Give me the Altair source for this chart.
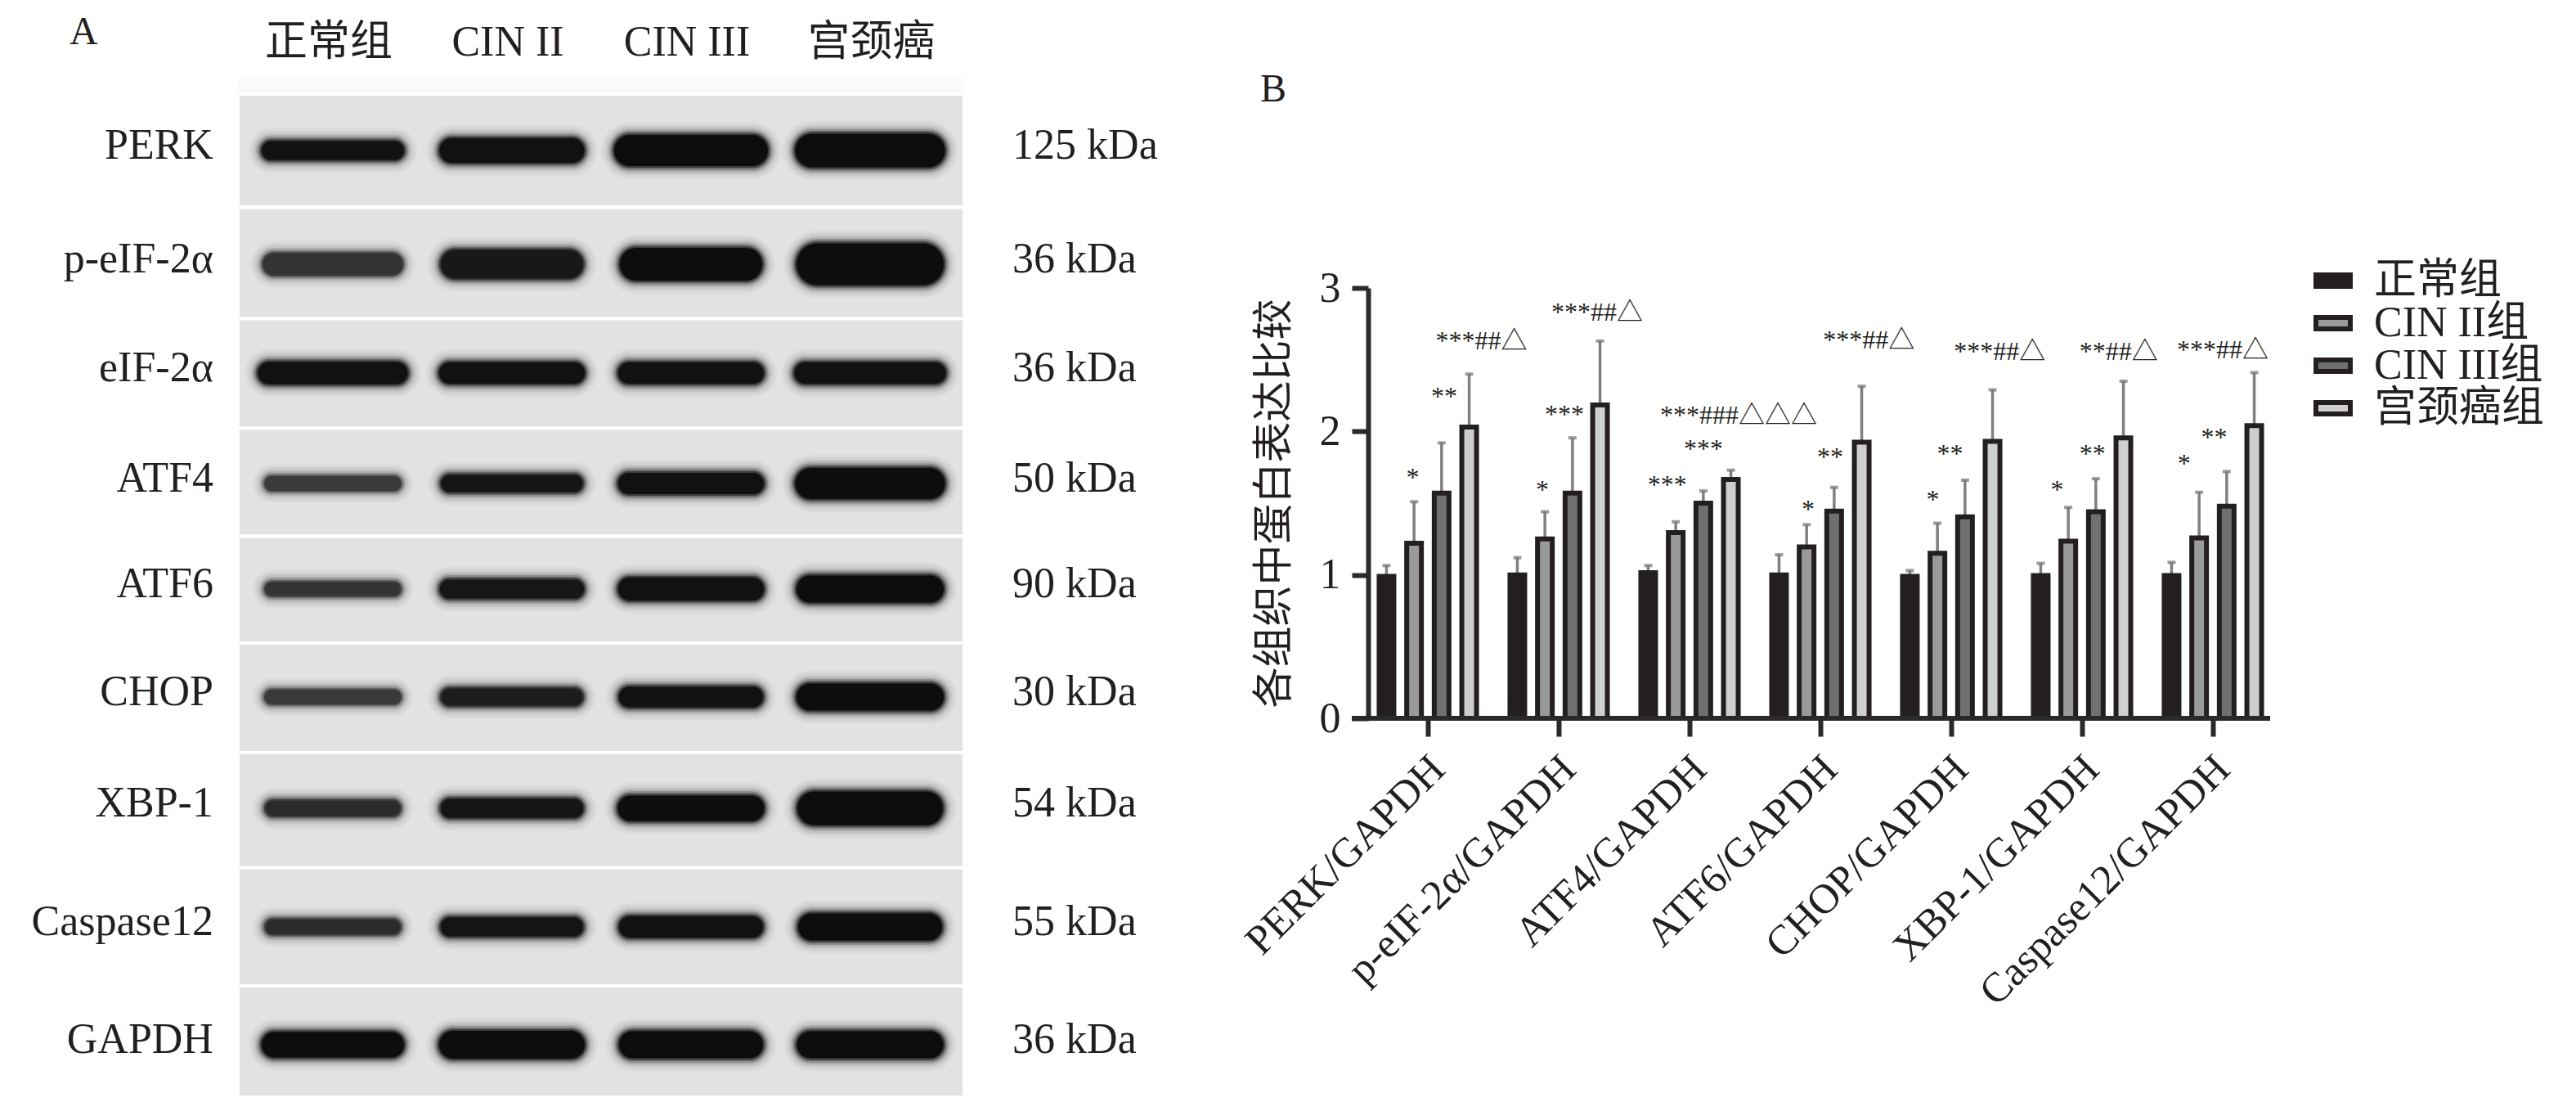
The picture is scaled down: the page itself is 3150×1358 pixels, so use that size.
import altair as alt
import pandas as pd

FONT = "Liberation Serif, Noto Sans CJK SC"
INK = "#231f20"

# ---------- panel B values ----------
targets = ["PERK/GAPDH", "p-eIF-2α/GAPDH", "ATF4/GAPDH", "ATF6/GAPDH",
           "CHOP/GAPDH", "XBP-1/GAPDH", "Caspase12/GAPDH"]
groups = ["正常组", "CIN II组", "CIN III组", "宫颈癌组"]
normal = [0.99, 1.00, 1.015, 1.00, 0.99, 0.995, 0.995]
cin2 = [1.22, 1.25, 1.295, 1.195, 1.15, 1.235, 1.257]
cin3 = [1.57, 1.57, 1.50, 1.445, 1.404, 1.44, 1.478]
cancer = [2.03, 2.185, 1.665, 1.925, 1.93, 1.955, 2.04]
normal_hi = [1.065, 1.12, 1.065, 1.14, 1.03, 1.08, 1.087]
cin2_hi = [1.51, 1.44, 1.37, 1.35, 1.36, 1.47, 1.576]
cin3_hi = [1.92, 1.955, 1.585, 1.61, 1.66, 1.67, 1.72]
cancer_hi = [2.40, 2.63, 1.73, 2.315, 2.29, 2.35, 2.41]
fills = ["#231f20", "#9a9a9a", "#707070", "#cfcfcf"]

marks_text = ["*", "**", "***##△", "*", "***", "***##△", "***", "***", "***###△△△",
              "*", "**", "***##△", "*", "**", "***##△", "*", "**", "**##△",
              "*", "**", "***##△"]
marks_at = [-0.115, 0.125, 0.41, 0.875, 1.044, 1.294, 1.83, 2.106, 2.375,
            2.906, 3.075, 3.37, 3.86, 3.99, 4.37, 4.81, 5.08, 5.28, 5.78, 6.01, 6.075]
marks_y = [1.617, 2.185, 2.573, 1.537, 2.059, 2.772, 1.569, 1.82, 2.056,
           1.395, 1.763, 2.576, 1.463, 1.785, 2.499, 1.537, 1.785, 2.499, 1.719, 1.9, 2.51]

# ---------- panel A values ----------
rows = ["PERK", "p-eIF-2α", "eIF-2α", "ATF4", "ATF6", "CHOP", "XBP-1", "Caspase12", "GAPDH"]
kda = ["125 kDa", "36 kDa", "36 kDa", "50 kDa", "90 kDa", "30 kDa", "54 kDa", "55 kDa", "36 kDa"]
lanes = ["正常组", "CIN II", "CIN III", "宫颈癌"]
thick = [[25, 32, 40, 43], [27, 37, 42, 53], [29, 28, 28, 28], [17, 23, 28, 40], [17, 25, 30, 35],
         [17, 23, 27, 35], [20, 25, 33, 43], [19, 25, 28, 35], [33, 36, 35, 35]]
length = [[176, 179, 190, 185], [171, 176, 176, 182], [185, 180, 180, 187], [166, 175, 180, 185],
          [166, 178, 180, 182], [166, 175, 178, 182], [166, 176, 181, 180], [166, 176, 178, 178],
          [176, 180, 178, 181]]
core = [["#111", "#111", "#0d0d0d", "#0d0d0d"], ["#333", "#181818", "#0d0d0d", "#0d0d0d"],
        ["#111", "#111", "#111", "#111"], ["#3a3a3a", "#141414", "#111", "#0d0d0d"],
        ["#333", "#161616", "#111", "#0d0d0d"], ["#3a3a3a", "#1c1c1c", "#111", "#0d0d0d"],
        ["#2b2b2b", "#141414", "#0d0d0d", "#0d0d0d"], ["#2b2b2b", "#141414", "#111", "#0d0d0d"],
        ["#0d0d0d", "#0d0d0d", "#0d0d0d", "#0d0d0d"]]

# ---------- layout of the figure (plot origin = image pixel 1673, 352) ----------
OX, OY = 1673, 352
W, H = 1103, 526
LANE_PX = 219.0
lane_scale = alt.Scale(domain=[1, 4], range=[407 - OX, 407 + 3 * LANE_PX - OX], nice=False, zero=False)
row_scale = alt.Scale(domain=[0.35, 0.5, 1, 2, 3, 4, 5, 6, 7, 8, 9, 9.5],
                      range=[v - OY for v in [95, 115, 184, 323, 456, 591, 720, 852, 988, 1133, 1277, 1341]],
                      nice=False, zero=False)
y_scale = alt.Scale(domain=[0, 3], nice=False, zero=False)
x_scale = alt.Scale(domain=targets, range=[-7, 1113], paddingInner=0, paddingOuter=0)
off_scale = alt.Scale(domain=groups, paddingInner=0.466, paddingOuter=0.607)
ann_scale = alt.Scale(domain=[-0.456, 6.4375], nice=False, zero=False)

# ---------- panel A ----------
strip_df = pd.DataFrame({"top": [0.35], "bot": [0.5], "l": [0.47], "r": [4.525]})
strip = alt.Chart(strip_df).mark_rect(fill="#fafafa").encode(
    x=alt.X("l:Q", scale=lane_scale, axis=None), x2="r:Q",
    y=alt.Y("top:Q", scale=row_scale, axis=None), y2="bot:Q")
panel_df = pd.DataFrame({"row": range(1, 10)})
panel_df["top"] = panel_df["row"] - 0.5
panel_df["bot"] = panel_df["row"] + 0.5
panel_df["l"] = 0.47
panel_df["r"] = 4.525
gel = alt.Chart(panel_df).mark_rect(fill="#e2e2e2", stroke="white", strokeWidth=4).encode(
    x=alt.X("l:Q", scale=lane_scale, axis=None), x2="r:Q",
    y=alt.Y("top:Q", scale=row_scale, axis=None), y2="bot:Q")

halo = [(30, .03), (24, .045), (18, .07), (13, .12), (9, .2), (5, .3), (2, .5)]
rec = []
for ext, op in halo + [(-2, 1.0)]:
    for i, _ in enumerate(rows):
        for k in range(4):
            half = (length[i][k] - thick[i][k]) / 2 / LANE_PX
            rec.append({"row": i + 1, "a": k + 1 - half, "b": k + 1 + half,
                        "w": thick[i][k] + ext, "o": op,
                        "c": core[i][k] if ext < 0 else "#111"})
bands = alt.Chart(pd.DataFrame(rec)).mark_rule(strokeCap="round").encode(
    x=alt.X("a:Q", scale=lane_scale, axis=None), x2="b:Q",
    y=alt.Y("row:Q", scale=row_scale, axis=None),
    size=alt.Size("w:Q", scale=None, legend=None),
    opacity=alt.Opacity("o:Q", scale=None, legend=None),
    color=alt.Color("c:N", scale=None, legend=None))

txt = dict(font=FONT, fontSize=52, color=INK)
row_df = pd.DataFrame({"row": range(1, 10), "name": rows, "kda": kda, "a": 0.333, "b": 4.795})
row_labels = alt.Chart(row_df).mark_text(align="right", baseline="middle", dy=-6, **txt).encode(
    x=alt.X("a:Q", scale=lane_scale, axis=None),
    y=alt.Y("row:Q", scale=row_scale, axis=None), text="name:N")
kda_labels = alt.Chart(row_df).mark_text(align="left", baseline="middle", dy=-6, **txt).encode(
    x=alt.X("b:Q", scale=lane_scale, axis=None),
    y=alt.Y("row:Q", scale=row_scale, axis=None), text="kda:N")
head_df = pd.DataFrame({"lane": [1, 2, 3, 4.03], "name": lanes})
headers = alt.Chart(head_df).mark_text(align="center", baseline="middle", dx=-5, **txt).encode(
    x=alt.X("lane:Q", scale=lane_scale, axis=None),
    y=alt.value(52 - OY), text="name:N")
letter_a = alt.Chart(pd.DataFrame({"t": ["A"]})).mark_text(align="left", baseline="middle", **{**txt, "fontSize": 48}).encode(
    x=alt.value(85 - OX), y=alt.value(40 - OY), text="t:N")
letter_b = alt.Chart(pd.DataFrame({"t": ["B"]})).mark_text(align="left", baseline="middle", **{**txt, "fontSize": 48}).encode(
    x=alt.value(1541 - OX), y=alt.value(110 - OY), text="t:N")

# ---------- panel B ----------
rec = []
for g, vals, his in zip(groups, [normal, cin2, cin3, cancer], [normal_hi, cin2_hi, cin3_hi, cancer_hi]):
    for t, v, h in zip(targets, vals, his):
        rec.append({"target": t, "group": g, "value": v, "hi": h})
df = pd.DataFrame(rec)
X_AX = alt.Axis(title=None, domain=False, ticks=True, tickSize=22, tickWidth=6, tickColor="#2a2a2a",
                labelAngle=315, labelAlign="right", labelBaseline="middle", labelFont=FONT,
                labelFontSize=51, labelColor=INK, labelPadding=32, labelOffset=13, labelLimit=0, grid=False)
Y_AX = alt.Axis(title="各组织中蛋白表达比较", titleFont=FONT, titleFontSize=50, titleColor=INK,
                titleFontWeight="normal", titlePadding=30, values=[0, 1, 2, 3], format="d",
                domainWidth=6, domainColor="#2a2a2a", tickSize=20, tickWidth=6, tickColor="#2a2a2a",
                labelFont=FONT, labelFontSize=52, labelColor=INK, labelPadding=14, grid=False)
bars = alt.Chart(df).mark_bar(stroke="#231f20", strokeWidth=6).encode(
    x=alt.X("target:N", scale=x_scale, axis=X_AX),
    xOffset=alt.XOffset("group:N", scale=off_scale),
    y=alt.Y("value:Q", scale=y_scale, axis=Y_AX),
    fill=alt.Fill("group:N", scale=alt.Scale(domain=groups, range=fills),
                  legend=alt.Legend(orient="none", legendX=2827 - OX, legendY=317 - OY, title=None,
                                    symbolType="M-1,-0.33H1V0.33H-1Z", symbolSize=1764,
                                    symbolStrokeColor="#231f20", symbolStrokeWidth=6,
                                    labelFont=FONT, labelFontSize=52, labelColor=INK,
                                    rowPadding=0, labelOffset=24, symbolOffset=0, labelLimit=0)))
err = alt.Chart(df).mark_rule(color="#808080", strokeWidth=3.5).encode(
    x=alt.X("target:N", scale=x_scale, axis=None),
    xOffset=alt.XOffset("group:N", scale=off_scale),
    y=alt.Y("value:Q", scale=y_scale, axis=None), y2="hi:Q")
caps = alt.Chart(df).mark_tick(color="#707070", thickness=4, size=10, orient="horizontal").encode(
    x=alt.X("target:N", scale=x_scale, axis=None),
    xOffset=alt.XOffset("group:N", scale=off_scale),
    y=alt.Y("hi:Q", scale=y_scale, axis=None))
ann_df = pd.DataFrame({"x": marks_at, "y": marks_y, "t": marks_text})
ann = alt.Chart(ann_df).mark_text(font=FONT, fontSize=32, color=INK, align="center", baseline="alphabetic").encode(
    x=alt.X("x:Q", scale=ann_scale, axis=None),
    y=alt.Y("y:Q", scale=y_scale, axis=None), text="t:N")
base = alt.Chart(pd.DataFrame({"v": [0]})).mark_rule(color="#2a2a2a", strokeWidth=6).encode(
    x=alt.value(-20), x2=alt.value(W),
    y=alt.Y("v:Q", scale=y_scale, axis=None))

chart = alt.layer(strip, gel, bands, row_labels, kda_labels, headers, letter_a, letter_b,
                  err, caps, bars, ann, base).resolve_scale(
    x="independent", y="independent", fill="independent", color="independent"
).properties(
    width=W, height=H,
    padding={"left": OX - 8, "top": OY - 8, "right": 340, "bottom": 470},
    autosize=alt.AutoSizeParams(type="none"),
    background="white",
).configure_view(stroke=None)

chart.save("out.html", embed_options={"renderer": "svg", "actions": False})
